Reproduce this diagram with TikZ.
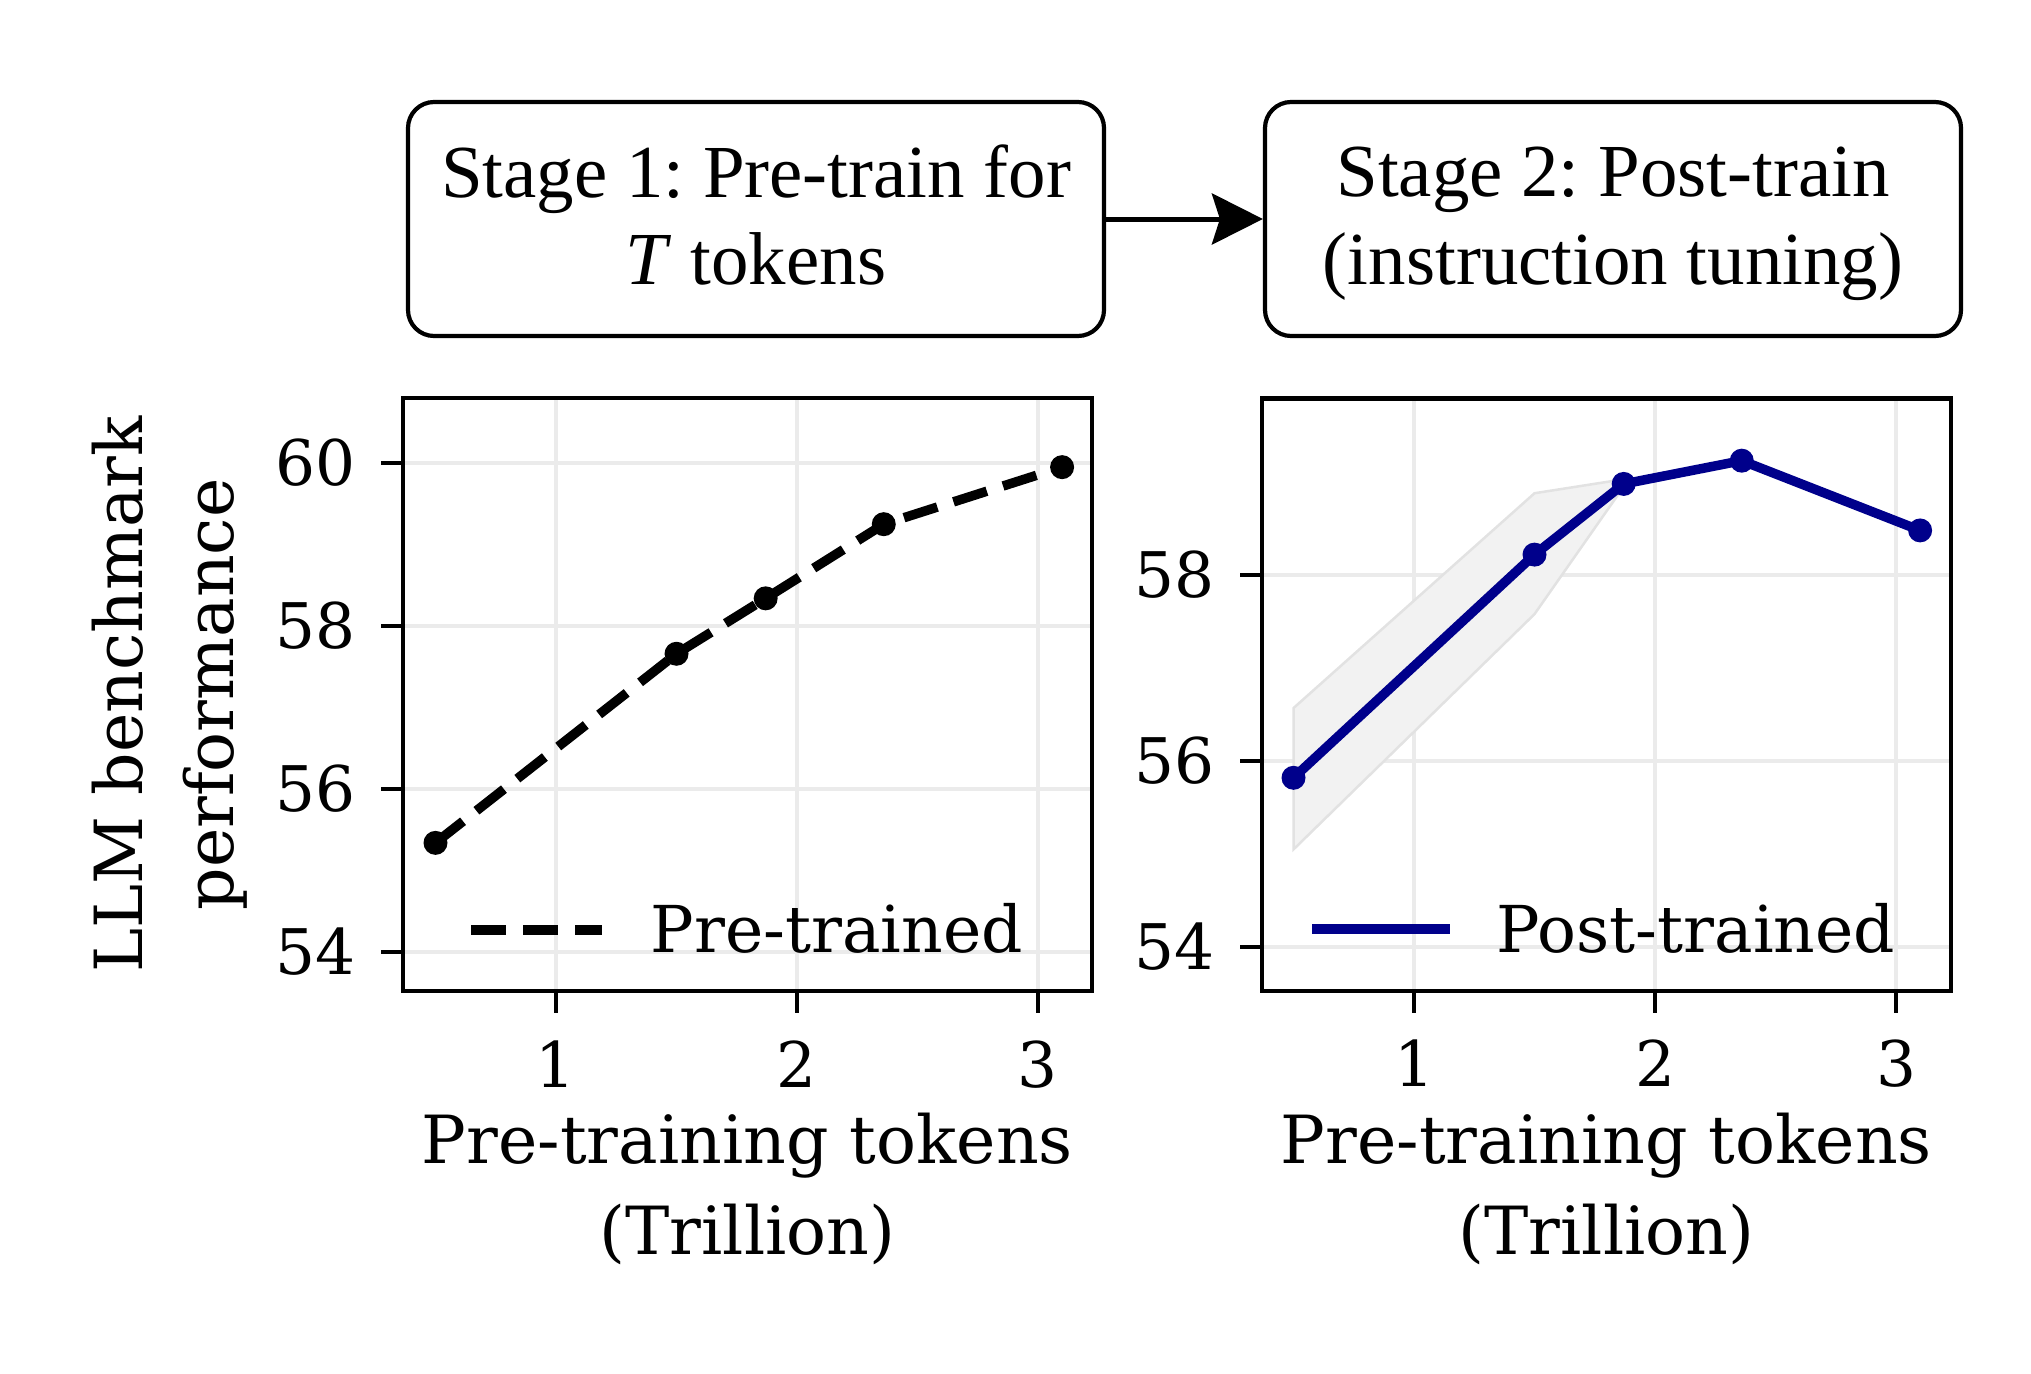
\documentclass[tikz,border=0pt]{standalone}
\usepackage{fontspec}
\setmainfont{DejaVu Serif}
\newfontfamily\boxfont{Liberation Serif}
\usetikzlibrary{arrows.meta}
\definecolor{postblue}{HTML}{00008B}
\definecolor{gridgray}{HTML}{EBEBEB}
\definecolor{bandfill}{HTML}{F2F2F2}
\definecolor{bandedge}{HTML}{E2E2E2}
\frenchspacing
% invisible struts so both boxes get the same baselines
\newcommand{\boxtop}{\rule{0pt}{6mm}}
\newcommand{\boxbot}{\rule[-1.6mm]{0pt}{1.6mm}}
\begin{document}
\begin{tikzpicture}[x=0.1mm, y=-0.1mm,
  font=\fontsize{17.9}{25.9}\selectfont,
  stagebox/.style={draw, line width=0.42mm, rounded corners=2.6mm,
    minimum width=69.6mm, minimum height=23.4mm, align=center,
    font=\boxfont\fontsize{21.3}{25}\selectfont},
  flowarrow/.style={line width=0.5mm, -{Stealth[length=5.1mm, width=5.1mm, inset=0.8mm]}},
  gridline/.style={draw=gridgray, line width=0.42mm},
  spine/.style={line width=0.45mm},
  tickmark/.style={line width=0.45mm},
  yticklabel/.style={left=2.3mm, inner sep=0},
  xticklabel/.style={below=2.5mm, inner sep=0},
  axislabel/.style={align=center, inner sep=0, font=\fontsize{18.9}{25.9}\selectfont},
  legendlabel/.style={anchor=base west, inner sep=0, font=\fontsize{18.4}{22}\selectfont},
  preline/.style={line width=0.95mm, dash pattern=on 3.5mm off 1.7mm},
  postline/.style={draw=postblue, line width=0.95mm},
  band/.style={fill=bandfill, draw=bandedge, line width=0.25mm}]
\useasboundingbox (0,0) rectangle (2031,1373);

% stages
\node[stagebox] (stageone) at (756,219) {Stage 1: Pre-train for\boxtop\\\textit{T} tokens\boxbot};
\node[stagebox] (stagetwo) at (1613,219) {Stage 2: Post-train\boxtop\\(instruction tuning)\boxbot};
\draw[flowarrow] (stageone) -- (stagetwo);

% left panel: pre-trained
\begin{scope}[shift={(315,5353)}, x=24.1mm, y=8.15mm]
  \foreach \t in {1,2,3}
    \draw[gridline] (\t,53.52) -- (\t,60.8);
  \foreach \v in {54,56,58,60}
    \draw[gridline] (0.365,\v) -- (3.224,\v);
  \draw[preline] (0.5,55.34) -- (1.5,57.66) -- (1.87,58.34) -- (2.36,59.25) -- (3.1,59.95);
  \foreach \t/\v in {0.5/55.34, 1.5/57.66, 1.87/58.34, 2.36/59.25, 3.1/59.95}
    \fill (\t,\v) circle [radius = 1.2mm];
  \draw[spine] (0.365,53.52) rectangle (3.224,60.8);
  \foreach \v in {54,56,58,60}
    \draw[tickmark] (0.365,\v) -- ++(-2.2mm,0) node[yticklabel] (prey\v) {\v};
  \foreach \t in {1,2,3}
    \draw[tickmark] (\t,53.52) -- ++(0,-2.2mm) node[xticklabel] (prex\t) {\t};
\end{scope}
\draw[preline] (471,930) -- (602,930);
\node[legendlabel] (prelegend) at (650,952) {Pre-trained};
\node[axislabel, anchor=north] (prexlabel) at (747.5,1112) {Pre-training tokens\\(Trillion)};
\node[axislabel, rotate=90] (ylabel) at (170,694.5) {LLM benchmark\\performance};

% right panel: post-trained
\begin{scope}[shift={(1173,5969)}, x=24.1mm, y=9.3mm]
  \foreach \t in {1,2,3}
    \draw[gridline] (\t,53.53) -- (\t,59.9);
  \foreach \v in {54,56,58}
    \draw[gridline] (0.369,\v) -- (3.228,\v);
  \draw[band] (0.5,56.57) -- (1.5,58.88) -- (1.87,59.03) -- (1.87,58.95) -- (1.5,57.58) -- (0.5,55.05) -- cycle;
  \draw[postline] (0.5,55.82) -- (1.5,58.22) -- (1.87,58.98) -- (2.36,59.23) -- (3.1,58.48);
  \foreach \t/\v in {0.5/55.82, 1.5/58.22, 1.87/58.98, 2.36/59.23, 3.1/58.48}
    \fill[postblue] (\t,\v) circle [radius = 1.2mm];
  \draw[spine] (0.369,53.53) rectangle (3.228,59.9);
  \foreach \v in {54,56,58}
    \draw[tickmark] (0.369,\v) -- ++(-2.2mm,0) node[yticklabel] (posty\v) {\v};
  \foreach \t in {1,2,3}
    \draw[tickmark] (\t,53.53) -- ++(0,-2.2mm) node[xticklabel] (postx\t) {\t};
\end{scope}
\draw[postline] (1312,929) -- (1450,929);
\node[legendlabel] (postlegend) at (1496,952) {Post-trained};
\node[axislabel, anchor=north] (postxlabel) at (1606.5,1112) {Pre-training tokens\\(Trillion)};
\end{tikzpicture}
\end{document}
